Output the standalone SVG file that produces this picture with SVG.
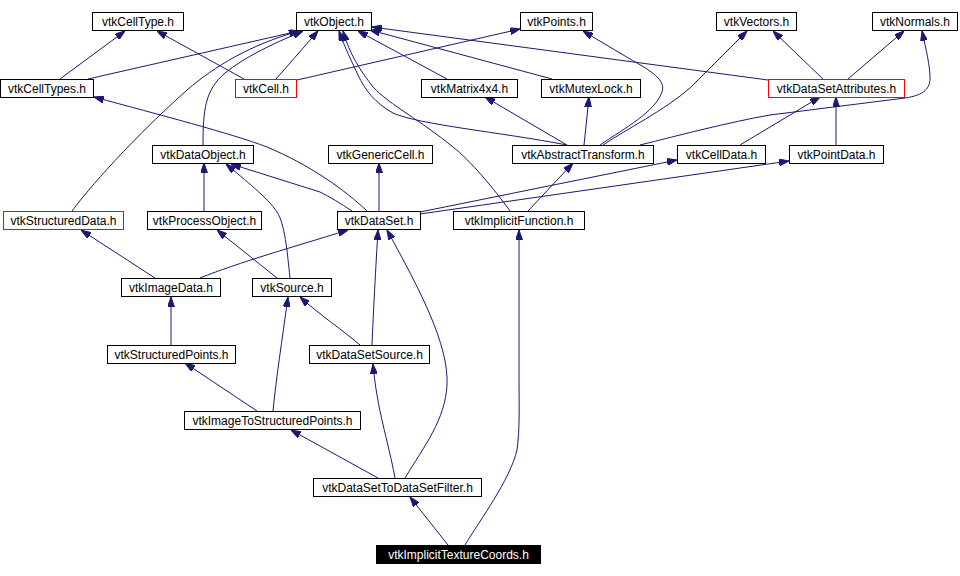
<svg xmlns="http://www.w3.org/2000/svg" width="960" height="576" viewBox="0 0 960 576">
<style>
.n rect{fill:#fff;stroke:#000;stroke-width:1}
.n.r rect{stroke:#f00}
.n.b rect{fill:#000}
.n text{font-family:"Liberation Sans",Arial,sans-serif;font-size:12px;text-anchor:middle;fill:#000}
.n.b text{fill:#fff}
#edges path{fill:none;stroke:#191970;stroke-width:1;marker-end:url(#ah)}
</style>
<defs>
<marker id="ah" viewBox="0 0 10 7" markerWidth="10" markerHeight="7" refX="10" refY="3.5" orient="auto" markerUnits="userSpaceOnUse">
<path d="M0,0 L10,3.5 L0,7 z" fill="#191970" stroke="#191970"/>
</marker>
</defs>
<rect width="960" height="576" fill="#fff"/>
<g id="edges">
<path d="M60,79 L125,31"/>
<path d="M244,79 L157,31"/>
<path d="M88,79 L299,31"/>
<path d="M276,79 L318,31"/>
<path d="M297,80 L520,29"/>
<path d="M72,211 C80,200 120,150 187,90 C215,66 250,45 299,31"/>
<path d="M203,145 C203,110 205,90 225,73 C245,57 270,45 303,31"/>
<path d="M447,79 L358,31"/>
<path d="M552,79 L370,30"/>
<path d="M768,80 L372,27"/>
<path d="M567,145 C500,132 420,125 393,113 C375,103 365,90 358,75 C352,62 345,48 339,31"/>
<path d="M510,211 C495,190 470,160 453,147 C420,120 390,105 373,87 C360,70 350,55 343,31"/>
<path d="M567,145 L485,97"/>
<path d="M584,145 L589,97"/>
<path d="M600,145 C625,128 655,112 662,92 C667,78 645,68 625,56 L583,31"/>
<path d="M603,145 C625,130 665,110 690,88 L747,31"/>
<path d="M640,145 C680,135 730,122 770,115 L905,98 C925,95 930,88 930,78 C930,65 926,50 922,31"/>
<path d="M823,79 L773,31"/>
<path d="M848,79 L904,31"/>
<path d="M740,145 L820,97"/>
<path d="M836,145 L836,97"/>
<path d="M204,211 L204,163"/>
<path d="M290,278 C287,250 285,225 277,212 C268,198 245,180 226,164"/>
<path d="M352,211 C340,203 330,197 320,192 L231,164"/>
<path d="M367,211 C345,190 310,165 267,147 C230,133 160,115 94,97"/>
<path d="M379,211 L379,163"/>
<path d="M420,212 L677,160"/>
<path d="M420,214 L789,161"/>
<path d="M528,211 L573,163"/>
<path d="M155,278 L81,230"/>
<path d="M200,278 C240,262 290,248 348,230"/>
<path d="M277,278 L217,230"/>
<path d="M360,345 C345,332 320,315 300,297"/>
<path d="M372,345 C373,320 375,280 378,230"/>
<path d="M171,345 L171,297"/>
<path d="M257,411 L185,363"/>
<path d="M273,411 C276,380 282,340 288,297"/>
<path d="M378,478 L291,430"/>
<path d="M395,478 C388,440 377,410 373,364"/>
<path d="M405,478 C425,445 445,420 447,385 C449,345 420,290 387,230"/>
<path d="M448,545 L410,497"/>
<path d="M465,545 C480,520 510,480 517,450 C520,430 519,400 519,380 L519,230"/>
</g>
<g id="vtkCellType" class="n"><rect x="92.5" y="12.5" width="91" height="18"/><text x="138" y="25.5">vtkCellType.h</text></g>
<g id="vtkObject" class="n"><rect x="296.5" y="12.5" width="75" height="18"/><text x="334" y="25.5">vtkObject.h</text></g>
<g id="vtkPoints" class="n"><rect x="520.5" y="12.5" width="72" height="18"/><text x="556.5" y="25.5">vtkPoints.h</text></g>
<g id="vtkVectors" class="n"><rect x="716.5" y="12.5" width="80" height="18"/><text x="756.5" y="25.5">vtkVectors.h</text></g>
<g id="vtkNormals" class="n"><rect x="872.5" y="12.5" width="85" height="18"/><text x="915" y="25.5">vtkNormals.h</text></g>
<g id="vtkCellTypes" class="n"><rect x="0.5" y="79.5" width="93" height="18"/><text x="47" y="92.5">vtkCellTypes.h</text></g>
<g id="vtkCell" class="n r"><rect x="235.5" y="79.5" width="61" height="18"/><text x="266" y="92.5">vtkCell.h</text></g>
<g id="vtkMatrix4x4" class="n"><rect x="421.5" y="79.5" width="96" height="18"/><text x="469.5" y="92.5">vtkMatrix4x4.h</text></g>
<g id="vtkMutexLock" class="n"><rect x="541.5" y="79.5" width="99" height="18"/><text x="591" y="92.5">vtkMutexLock.h</text></g>
<g id="vtkDataSetAttributes" class="n r"><rect x="768.5" y="79.5" width="136" height="18"/><text x="836.5" y="92.5">vtkDataSetAttributes.h</text></g>
<g id="vtkDataObject" class="n"><rect x="152.5" y="145.5" width="101" height="18"/><text x="203" y="158.5">vtkDataObject.h</text></g>
<g id="vtkGenericCell" class="n"><rect x="328.5" y="145.5" width="104" height="18"/><text x="380.5" y="158.5">vtkGenericCell.h</text></g>
<g id="vtkAbstractTransform" class="n"><rect x="512.5" y="145.5" width="141" height="18"/><text x="583" y="158.5">vtkAbstractTransform.h</text></g>
<g id="vtkCellData" class="n"><rect x="677.5" y="145.5" width="88" height="18"/><text x="721.5" y="158.5">vtkCellData.h</text></g>
<g id="vtkPointData" class="n"><rect x="789.5" y="145.5" width="94" height="18"/><text x="836.5" y="158.5">vtkPointData.h</text></g>
<g id="vtkStructuredData" class="n r"><rect x="3.5" y="211.5" width="120" height="18"/><text x="63.5" y="224.5">vtkStructuredData.h</text></g>
<g id="vtkProcessObject" class="n"><rect x="147.5" y="211.5" width="114" height="18"/><text x="204.5" y="224.5">vtkProcessObject.h</text></g>
<g id="vtkDataSet" class="n"><rect x="337.5" y="211.5" width="83" height="18"/><text x="379" y="224.5">vtkDataSet.h</text></g>
<g id="vtkImplicitFunction" class="n"><rect x="453.5" y="211.5" width="131" height="18"/><text x="519" y="224.5">vtkImplicitFunction.h</text></g>
<g id="vtkImageData" class="n"><rect x="121.5" y="278.5" width="99" height="18"/><text x="171" y="291.5">vtkImageData.h</text></g>
<g id="vtkSource" class="n"><rect x="252.5" y="278.5" width="79" height="18"/><text x="292" y="291.5">vtkSource.h</text></g>
<g id="vtkStructuredPoints" class="n"><rect x="107.5" y="345.5" width="128" height="18"/><text x="171.5" y="358.5">vtkStructuredPoints.h</text></g>
<g id="vtkDataSetSource" class="n"><rect x="309.5" y="345.5" width="120" height="18"/><text x="369.5" y="358.5">vtkDataSetSource.h</text></g>
<g id="vtkImageToStructuredPoints" class="n"><rect x="184.5" y="411.5" width="176" height="18"/><text x="272.5" y="424.5">vtkImageToStructuredPoints.h</text></g>
<g id="vtkDataSetToDataSetFilter" class="n"><rect x="313.5" y="478.5" width="168" height="18"/><text x="397.5" y="491.5">vtkDataSetToDataSetFilter.h</text></g>
<g id="vtkImplicitTextureCoords" class="n b"><rect x="376.5" y="545.5" width="164" height="18"/><text x="458.5" y="558.5">vtkImplicitTextureCoords.h</text></g>
</svg>
